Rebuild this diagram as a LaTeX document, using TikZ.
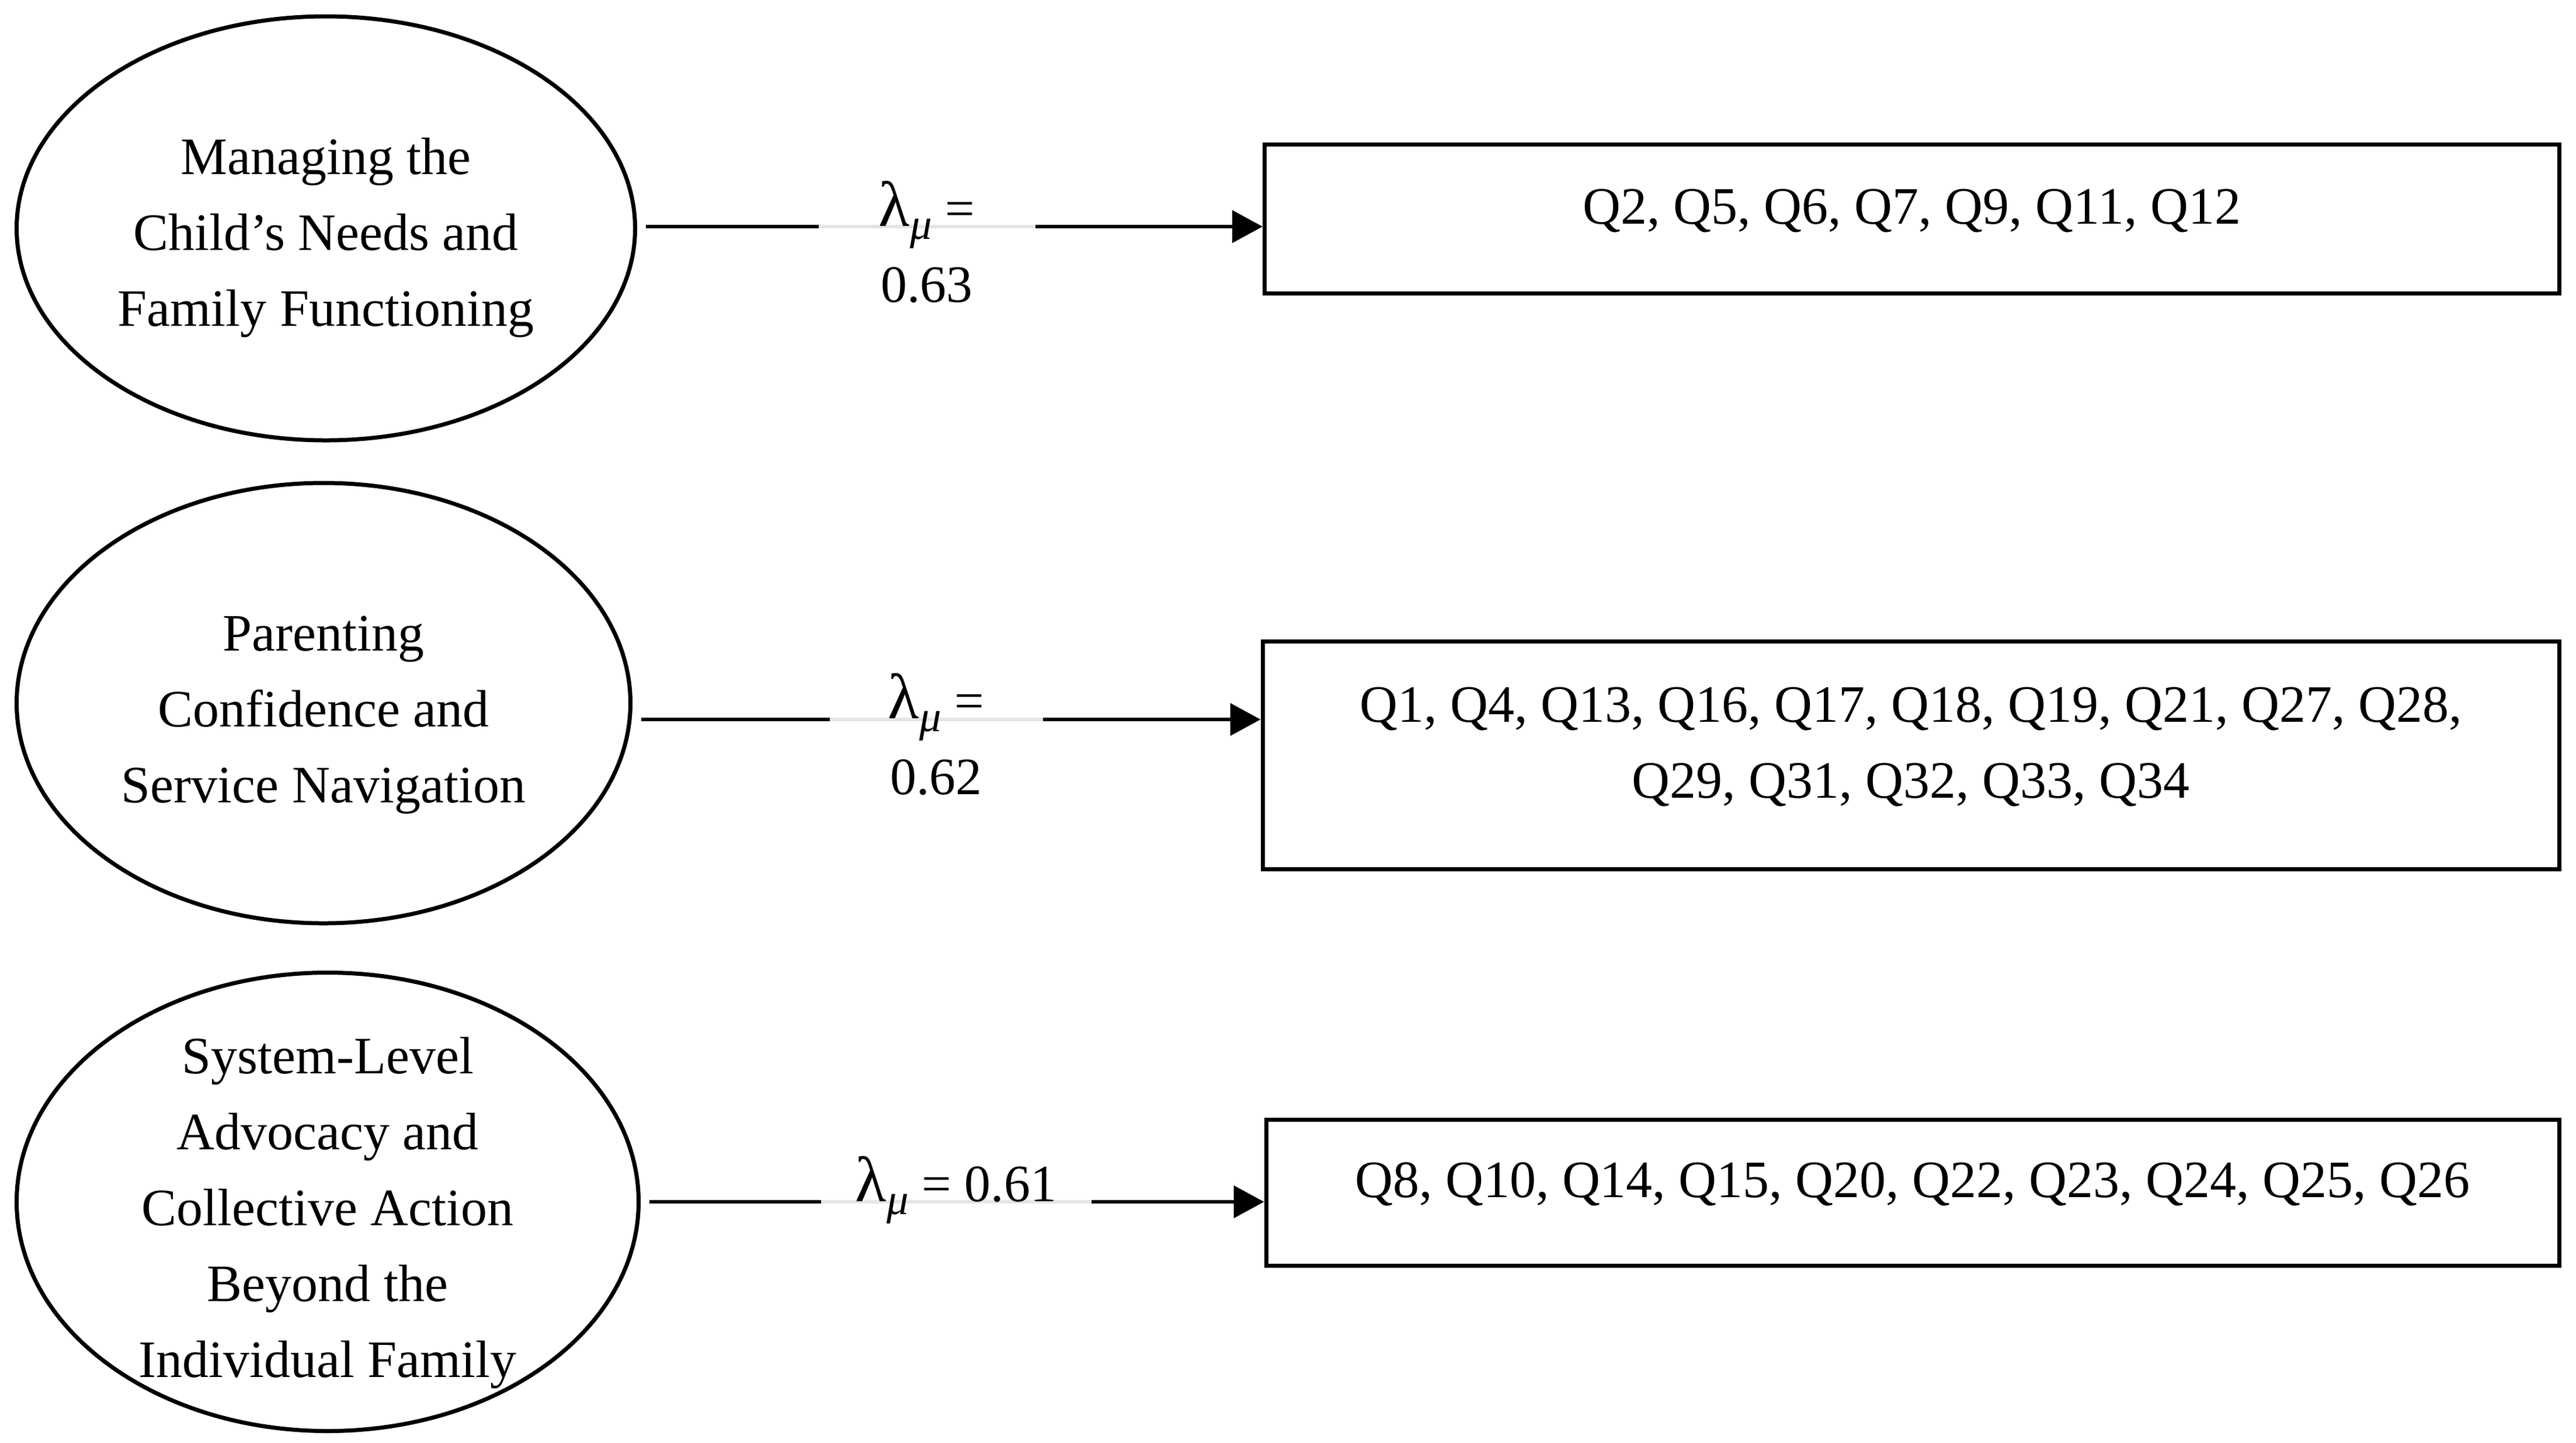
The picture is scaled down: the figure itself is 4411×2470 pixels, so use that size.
\documentclass[tikz,border=0pt]{standalone}
\usepackage{fontspec}
\setmainfont{Liberation Serif}
\usetikzlibrary{shapes.geometric,arrows.meta}
\newcommand\lammu{{\fontsize{22pt}{22pt}\selectfont λ}\raisebox{-4.5pt}{\fontsize{15pt}{15pt}\selectfont\itshape μ}}
\begin{document}
\begin{tikzpicture}[x=0.2pt,y=-0.2pt,
  txt/.style={font=\fontsize{18pt}{26pt}\selectfont},
  factor/.style={txt, ellipse, draw, line width=1.4pt, inner xsep=-10pt, inner ysep=-20pt, align=center},
  items/.style={txt, rectangle, draw, line width=1.4pt, inner sep=0pt, align=center},
  conn/.style={line width=1.1pt, line cap=butt},
  gapline/.style={line width=1.1pt, draw=black!10},
  arr/.style={conn, -{Triangle[length=10.4pt,width=11pt]}},
  lab/.style={txt, inner sep=0pt, align=center}]
\useasboundingbox (0,0) rectangle (4411,2470);

% factors
\node[factor, minimum width=211.8pt, minimum height=145.2pt] (e1) at (558,391)
  {\rule{0pt}{19pt}Managing the\\Child’s Needs and\\Family Functioning};
\node[factor, minimum width=210.2pt, minimum height=150.8pt] (e2) at (554,1204)
  {\rule{0pt}{20pt}Parenting\\Confidence and\\Service Navigation};
\node[factor, minimum width=213pt, minimum height=157pt] (e3) at (561,2058)
  {\rule{0pt}{20pt}System-Level\\Advocacy and\\Collective Action\\Beyond the\\Individual Family};

% item boxes
\node[items, minimum width=443.4pt, minimum height=51pt] (b1) at (3274,375)
  {Q2, Q5, Q6, Q7, Q9, Q11, Q12\rule[-8.5pt]{0pt}{8.5pt}};
\node[items, minimum width=444pt, minimum height=78pt] (b2) at (3272,1293)
  {Q1, Q4, Q13, Q16, Q17, Q18, Q19, Q21, Q27, Q28,\\Q29, Q31, Q32, Q33, Q34\rule[-8.5pt]{0pt}{8.5pt}};
\node[items, minimum width=442.8pt, minimum height=50pt] (b3) at (3275,2042)
  {Q8, Q10, Q14, Q15, Q20, Q22, Q23, Q24, Q25, Q26\rule[-8.5pt]{0pt}{8.5pt}};

% label gaps
\coordinate (g1a) at (1402,388); \coordinate (g1b) at (1773,388);
\coordinate (g2a) at (1421,1232); \coordinate (g2b) at (1786,1232);
\coordinate (g3a) at (1406,2058); \coordinate (g3b) at (1869,2058);

% connectors
\draw[conn, shorten <=3pt] (e1.east |- g1a) -- (g1a);
\draw[gapline] (g1a) -- (g1b);
\draw[arr] (g1b) -- (g1b -| b1.west);
\draw[conn, shorten <=3pt] (e2.east |- g2a) -- (g2a);
\draw[gapline] (g2a) -- (g2b);
\draw[arr] (g2b) -- (g2b -| b2.west);
\draw[conn, shorten <=3pt] (e3.east |- g3a) -- (g3a);
\draw[gapline] (g3a) -- (g3b);
\draw[arr] (g3b) -- (g3b -| b3.west);

% labels
\node[lab] (l1) at (1587,414) {\lammu{} =\\0.63};
\node[lab] (l2) at (1603,1257) {\lammu{} =\\0.62};
\node[lab, anchor=base] (l3) at (1637,2057) {\lammu{} = 0.61};
\end{tikzpicture}
\end{document}
